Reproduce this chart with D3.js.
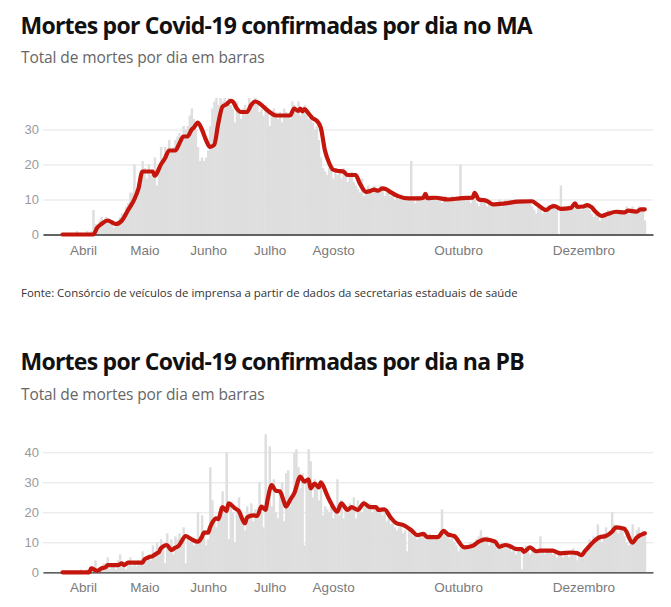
<!DOCTYPE html>
<html>
<head>
<meta charset="utf-8">
<script src="https://cdn.jsdelivr.net/npm/d3@7.9.0/dist/d3.min.js"></script>
<style>
  body { margin: 0; background: #fff; }
  svg { display: block; font-family: 'Open Sans', sans-serif; }
  .titulo { font-weight: 700; fill: #111; }
  .subtitulo { fill: #666; }
  .fonte { fill: #333; }
  .grid line { stroke: #e3e3e3; }
  .grid .domain { display: none; }
  .y-axis text { fill: #9a9a9a; }
  .x-axis text { fill: #7a7a7a; }
</style>
</head>
<body>
<svg id="chart" width="671" height="607"></svg>
<script>
// primeiro dia da série (índice 0) — um valor por dia até 31/12/2020
const INICIO = '2020-03-22';

const MESES = ['2020-04-01', '2020-05-01', '2020-06-01', '2020-07-01', '2020-08-01', '2020-10-01', '2020-12-01'];
const MESES_NOMES = ['Abril', 'Maio', 'Junho', 'Julho', 'Agosto', 'Outubro', 'Dezembro'];

// ------- Maranhão -------
const maBarras = [
  0,0,0,0,0,0,0,
  1,0,0,0,0,1,0,
  1,7,3,2,4,5,4,
  5,4,3,4,2,3,3,
  5,6,6,8,9,12,12,
  20,13,15,17,21,19,16,
  20,17,18,22,14,20,25,
  22,25,23,27,24,25,27,
  28,29,26,31,30,31,34,
  36,33,30,25,21,22,21,
  22,24,31,36,38,39,37,
  39,38,39,38,39,37,36,
  32,38,35,33,36,37,35,
  39,38,37,39,38,35,36,
  34,37,35,31,34,36,35,
  33,35,32,36,35,34,33,
  38,37,35,38,34,36,37,
  35,33,34,32,30,31,27,
  22,19,18,17,19,20,16,
  19,17,18,16,19,18,15,
  17,18,15,14,13,12,16,
  11,12,14,13,12,14,13,
  12,14,13,11,12,13,11,
  12,10,11,10,11,10,10,
  11,10,21,10,9,11,10,
  10,11,11,10,10,11,10,
  11,10,10,9,10,11,10,
  10,11,10,10,10,20,10,
  10,11,10,9,10,10,9,
  8,10,9,10,8,9,8,
  9,8,9,10,8,9,10,
  9,10,9,9,10,9,10,
  10,9,10,9,10,8,7,
  6,8,7,6,7,8,7,
  8,9,8,7,0,14,7,
  8,7,8,7,8,9,8,
  8,7,8,9,8,7,6,
  5,6,5,4,5,6,6,
  7,6,6,7,6,7,6,
  6,7,8,6,7,8,6,
  7,8,7,7,4
];

// média móvel: [dia desde o início, valor]
const maMedia = [
  [0,0],[15,0],[17,2],[19,3],[22,4],[24,3.5],[26,3],[29,4],[32,7],[35,10],[37,13],[39,18],
  [44,18],[45,16.8],[48,20],[50,21.8],[52,24],[55,24],[57,26],[59,28],[61,28],[63,30],
  [64,30.5],[66,32],[68,30],[70,27],[72,25],[74,25.6],[76,31.8],[78,36.5],[80,37.2],
  [82,38.2],[83,38],[85,36],[87,35],[90,35],[92,37],[94,38],[96,37.5],[98,36.5],[101,35],
  [104,34],[111,34],[113,36],[115,35.3],[116,36],[117,35.2],[118,35.8],[120,34.6],
  [122,33.2],[124,32.5],[126,30.5],[128,24],[130,20.5],[132,18.5],[134,18.2],[137,18],
  [139,17],[143,17],[145,14.6],[148,12.2],[150,12.4],[152,12.8],[154,12.5],[156,13.2],
  [158,12.9],[160,12.1],[164,10.9],[169,10.3],[174,10.3],[176,10.5],[177,11.6],[178,10.4],
  [182,10.5],[188,10],[195,10.4],[200,10.5],[201,11.9],[203,10],[207,9.6],[210,8.6],
  [216,8.9],[222,9.4],[229,9.5],[231,8.8],[233,7.9],[236,7],[238,7.8],[240,8.1],[243,7.3],
  [248,7.6],[250,8.9],[251,7.9],[254,8],[256,8.4],[258,7.8],[260,6.5],[263,5.3],[266,5.9],
  [270,6.5],[274,6.3],[276,6.8],[278,6.7],[280,6.5],[282,7.2],[284,7.2]
];

// ------- Paraíba -------
const pbBarras = [
  0,0,0,0,0,0,0,
  0,0,1,0,0,1,0,
  2,1,4,0,1,2,3,
  2,5,1,3,2,1,4,
  6,2,3,1,4,5,2,
  3,2,4,3,7,4,5,
  6,4,9,5,10,8,11,
  9,3,13,7,11,6,12,
  11,13,9,15,3,12,10,
  11,9,10,20,12,19,14,
  9,11,35,24,17,15,18,
  22,27,20,40,11,23,20,
  10,21,25,18,16,14,22,
  19,23,17,21,19,30,20,
  15,46,24,42,22,31,20,
  18,27,30,17,33,34,22,
  24,40,41,35,28,33,9,
  30,41,37,25,31,28,24,
  30,19,22,21,20,24,18,
  22,31,19,24,18,21,20,
  23,22,25,18,24,21,20,
  24,22,21,23,20,22,21,
  20,21,19,20,17,18,16,
  17,15,14,15,16,13,14,
  7,15,13,12,13,11,12,
  12,13,11,12,13,12,11,
  12,11,13,21,14,12,13,
  11,12,10,9,7,8,9,
  8,9,8,10,9,10,11,
  12,14,11,10,12,9,10,
  11,9,8,9,10,8,9,
  8,9,7,8,6,7,8,
  1,8,9,7,6,8,7,
  6,7,12,7,6,8,7,
  7,6,7,5,6,7,5,
  7,6,5,7,8,6,4,
  6,5,7,8,9,11,10,
  12,11,16,12,10,13,15,
  12,14,20,16,14,13,15,
  14,12,10,9,11,16,12,
  14,15,13,14,13
];

const pbMedia = [
  [0,0],[13,0],[14,1.3],[17,0.5],[19,1.3],[21,1.7],[22,2.4],[27,2.4],[29,3],[30,2.4],
  [32,3.2],[39,3.2],[40,4.3],[42,5],[44,5.4],[46,6.3],[47,6.7],[48,8],[51,9.1],[53,7.4],
  [55,8.2],[56,8.5],[57,9.1],[58,10.2],[60,12.1],[63,11],[66,10.2],[68,11.8],[69,13.2],
  [71,13.2],[72,15],[73,16.5],[75,18],[76,17.7],[78,21.7],[80,20.4],[81,23],[84,21.4],
  [86,20.4],[89,16.3],[90,18.3],[93,19],[95,18.8],[97,21.9],[99,20.8],[100,24.1],[102,29.1],
  [104,27.2],[106,27],[108,23.5],[109,21.9],[111,24.1],[113,26.3],[116,31.9],[118,30.2],
  [120,31],[121,28],[123,29.6],[125,28.3],[126,30],[129,25.8],[131,23],[134,20.2],[136,23],
  [139,20.8],[141,21.7],[144,20.8],[147,23],[150,21.7],[153,21.7],[154,20.8],[157,21],
  [160,18.3],[163,16.3],[166,15.8],[170,14.1],[173,12.4],[176,12.8],[178,11.7],[183,11.7],
  [186,13.8],[188,12.6],[191,12.1],[196,8.3],[200,8.8],[203,10.2],[206,11],[211,10.2],
  [213,8.5],[216,9.1],[218,8.8],[221,7.8],[224,7.7],[225,6.8],[228,8.3],[231,7],[233,7.2],
  [239,7.2],[243,6.3],[248,6.6],[251,6.4],[253,5.7],[255,7.2],[259,10.2],[262,11.7],
  [265,12.1],[268,13.5],[270,15],[274,14.5],[278,9.9],[280,11.5],[284,13]
];

const svg = d3.select('#chart');
const inicio = new Date(INICIO + 'T00:00:00Z');
const dia = i => d3.utcDay.offset(inicio, i);

// escala de tempo compartilhada pelos dois painéis
const x = d3.scaleUtc()
  .domain([new Date('2020-03-12T12:00:00Z'), new Date('2021-01-04T00:00:00Z')])
  .range([43, 653]);

function desenhaPainel(cfg) {
  const g = svg.append('g');

  g.append('text').attr('class', 'titulo')
    .attr('x', 20.5).attr('y', cfg.tituloY)
    .style('font-size', '23px').style('letter-spacing', '-0.75px')
    .text(cfg.titulo);

  g.append('text').attr('class', 'subtitulo')
    .attr('x', 21).attr('y', cfg.tituloY + 29.5)
    .style('font-size', '15.5px').style('letter-spacing', '-0.1px')
    .text('Total de mortes por dia em barras');

  const y = d3.scaleLinear()
    .domain([0, cfg.ticks[cfg.ticks.length - 1]])
    .range([cfg.base, cfg.topo]);

  g.append('g').attr('class', 'grid')
    .attr('transform', 'translate(43,0)')
    .call(d3.axisLeft(y).tickValues(cfg.ticks).tickSize(-610).tickFormat(''));

  g.append('g').attr('class', 'y-axis')
    .attr('transform', 'translate(43,0)')
    .call(d3.axisLeft(y).tickValues(cfg.ticks).tickSize(0).tickPadding(4))
    .call(s => s.select('.domain').remove())
    .selectAll('text').style('font-size', '13px');

  const largura = x(dia(1)) - x(dia(0));
  g.append('g').attr('class', 'barras')
    .selectAll('rect')
    .data(cfg.barras)
    .join('rect')
    .attr('x', (d, i) => x(dia(i)) - largura / 2)
    .attr('width', largura + 0.4)
    .attr('y', d => y(d))
    .attr('height', d => cfg.base - y(d))
    .attr('fill', '#dedede');

  const xAxis = d3.axisBottom(x)
    .tickValues(MESES.map(m => new Date(m + 'T00:00:00Z')))
    .tickFormat((d, i) => MESES_NOMES[i])
    .tickSize(0).tickPadding(cfg.padMes);

  g.append('g').attr('class', 'x-axis')
    .attr('transform', `translate(0,${cfg.base})`)
    .call(xAxis)
    .call(s => s.select('.domain').attr('stroke', '#333').attr('stroke-width', 1.3))
    .selectAll('text').style('font-size', '13.5px');

  const linha = d3.line()
    .x(d => x(dia(d[0])))
    .y(d => y(d[1]))
    .curve(d3.curveMonotoneX);

  g.append('path')
    .datum(cfg.media)
    .attr('d', linha)
    .attr('fill', 'none')
    .attr('stroke', '#c4160c')
    .attr('stroke-width', 4.2)
    .attr('stroke-linejoin', 'round')
    .attr('stroke-linecap', 'round');
}

desenhaPainel({
  titulo: 'Mortes por Covid-19 confirmadas por dia no MA',
  tituloY: 33.5, base: 234.5, topo: 129.5, ticks: [0, 10, 20, 30],
  padMes: 11, barras: maBarras, media: maMedia
});

svg.append('text').attr('class', 'fonte')
  .attr('x', 21).attr('y', 296.5)
  .style('font-size', '11.4px')
  .text('Fonte: Consórcio de veículos de imprensa a partir de dados da secretarias estaduais de saúde');

desenhaPainel({
  titulo: 'Mortes por Covid-19 confirmadas por dia na PB',
  tituloY: 370, base: 572.3, topo: 452.3, ticks: [0, 10, 20, 30, 40],
  padMes: 10, barras: pbBarras, media: pbMedia
});
</script>
</body>
</html>
